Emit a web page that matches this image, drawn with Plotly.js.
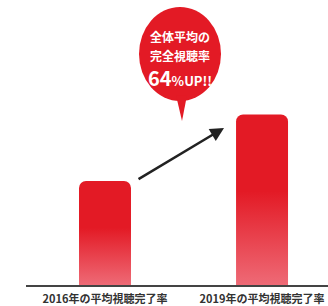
<!DOCTYPE html>
<html>
<head>
<meta charset="utf-8">
<script src="https://cdn.plot.ly/plotly-3.0.1.min.js"></script>
<style>
html,body{margin:0;padding:0;background:#fff;}
#chart{width:328px;height:306px;}
</style>
</head>
<body>
<div id="chart"></div>
<script>
const categories = ["2016年の平均視聴完了率", "2019年の平均視聴完了率"];
const positions = [0, 1];
const values = [100, 164];
const calloutLines = ["全体平均の", "完全視聴率"];
const calloutUp = "64";

const FONT = '"Noto Sans CJK JP", "Noto Sans", sans-serif';

const trace = {
  type: 'bar',
  x: positions,
  y: values,
  width: 0.331,
  marker: {color: '#e31a25', cornerradius: 7, line: {width: 0}},
  hoverinfo: 'none'
};

function label(text, py, extra) {
  return Object.assign({
    xref: 'paper', yref: 'paper', x: 0.5099, y: (285 - py) / 275,
    xanchor: 'center', yanchor: 'middle',
    text: text, showarrow: false,
    font: {family: FONT, size: 12, color: '#fff', weight: 'bold'}
  }, extra || {});
}

const layout = {
  width: 328, height: 306,
  margin: {l: 26, r: 0, t: 10, b: 21},
  paper_bgcolor: '#fff', plot_bgcolor: '#fff',
  showlegend: false,
  xaxis: {
    range: [-0.503, 1.42], fixedrange: true,
    tickvals: positions, ticktext: categories,
    showgrid: false, zeroline: false,
    showline: true, linecolor: '#444', linewidth: 1.5,
    ticks: '', automargin: false, ticklabelstandoff: 3,
    tickfont: {family: FONT, size: 11, color: '#333', weight: 'bold'}
  },
  yaxis: {
    range: [0, 264.4], fixedrange: true,
    visible: false, showgrid: false, zeroline: false
  },
  shapes: [
    {type: 'circle', xref: 'paper', yref: 'paper',
     x0: 0.3742, x1: 0.6457, y0: 0.6691, y1: 1.0109,
     fillcolor: '#e31a25', line: {width: 0}, layer: 'above'},
    {type: 'path', xref: 'paper', yref: 'paper',
     path: 'M 0.4967 0.69 L 0.5331 0.69 L 0.5166 0.5964 Z',
     fillcolor: '#e31a25', line: {width: 0}, layer: 'above'}
  ],
  annotations: [
    {xref: 'x', yref: 'y', axref: 'x', ayref: 'y',
     x: 0.758, y: 151, ax: 0.204, ay: 101,
     text: '', showarrow: true, arrowhead: 2, arrowsize: 1.1,
     arrowwidth: 2.5, arrowcolor: '#222'},
    label(calloutLines[0], 36),
    label(calloutLines[1], 55),
    label('<b><span style="font-size:20px">' + calloutUp + '</span><span style="font-size:13px">%UP!!</span></b>', 77,
          {font: {family: FONT, size: 14, color: '#fff'}})
  ]
};

Plotly.newPlot('chart', [trace], layout, {staticPlot: true, displayModeBar: false}).then(function(gd){
  const svg = gd.querySelector('.main-svg');
  let defs = svg.querySelector('defs');
  if (!defs) { defs = document.createElementNS('http://www.w3.org/2000/svg','defs'); svg.insertBefore(defs, svg.firstChild); }
  const g = document.createElementNS('http://www.w3.org/2000/svg','linearGradient');
  g.setAttribute('id','barGrad'); g.setAttribute('x1','0'); g.setAttribute('y1','0'); g.setAttribute('x2','0'); g.setAttribute('y2','1');
  [[0,'#e31a25'],[0.45,'#e31a25'],[1,'#ee6a76']].forEach(function(s){
    const st = document.createElementNS('http://www.w3.org/2000/svg','stop');
    st.setAttribute('offset', s[0]); st.setAttribute('stop-color', s[1]);
    g.appendChild(st);
  });
  defs.appendChild(g);
  gd.querySelectorAll('.bars path').forEach(function(p){ p.style.fill = 'url(#barGrad)'; });
});
</script>
</body>
</html>
